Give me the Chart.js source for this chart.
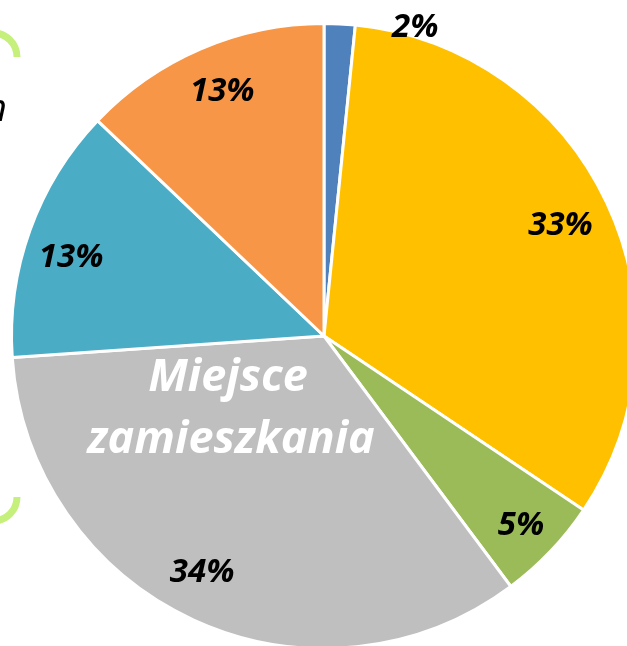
<!DOCTYPE html>
<html>
<head>
<meta charset="utf-8">
<script src="https://cdn.jsdelivr.net/npm/chart.js@4.4.0/dist/chart.umd.min.js"></script>
<style>
    html, body { margin: 0; padding: 0; background: #ffffff; overflow: hidden; }
    #wrap { width: 627px; height: 646px; overflow: hidden; position: relative; }
    canvas { display: block; }
</style>
</head>
<body>
<div id="wrap">
    <canvas id="grafico-pie" width="660" height="650"></canvas>
</div>
<script>
// dane (w %)
var categorias = ['Kat. 1', 'Kat. 2', 'Kat. 3', 'Miejsce zamieszkania', 'Kat. 5', 'Kat. 6'];
var valores = [1.6, 32.8, 5.4, 34.1, 13.2, 12.9];
var rotulos = ['2%', '33%', '5%', '34%', '13%', '13%'];
var cores = ['#4F81BD', '#FFC000', '#9BBB59', '#BFBFBF', '#4BACC6', '#F79646'];

// posicao dos rotulos: fator do raio + deslocamento extra
var fatorRaio = [1.03, 0.84, 0.87, 0.85, 0.85, 0.85];
var desloc = [[75, 13], [-1, 1], [0, 2], [-11, -5], [-3, 12], [3, 0]];

var rotulosPlugin = {
    id: 'rotulos',
    afterDatasetsDraw(chart) {
        var ctx = chart.ctx;
        var meta = chart.getDatasetMeta(0);
        ctx.save();
        ctx.font = 'italic bold 33px "Open Sans"';
        ctx.fillStyle = '#000000';
        ctx.textAlign = 'center';
        ctx.textBaseline = 'middle';
        meta.data.forEach(function (arc, i) {
            var p = arc.getProps(['x', 'y', 'startAngle', 'endAngle', 'outerRadius'], true);
            var meio = (p.startAngle + p.endAngle) / 2;
            var r = p.outerRadius * fatorRaio[i];
            var x = p.x + Math.cos(meio) * r + desloc[i][0];
            var y = p.y + Math.sin(meio) * r + desloc[i][1];
            ctx.fillText(rotulos[i], x, y);
        });

        // titulo da fatia cinza
        var cx = meta.data[0].x, cy = meta.data[0].y;
        ctx.fillStyle = '#ffffff';
        ctx.font = 'italic bold 45px "Open Sans"';
        ctx.textBaseline = 'alphabetic';
        ctx.fillText('Miejsce', cx - 96, cy + 55);
        ctx.fillText('zamieszkania', cx - 93, cy + 117);

        // restos da imagem original na margem esquerda
        ctx.strokeStyle = '#C6F07C';
        ctx.lineWidth = 7;
        ctx.beginPath();
        ctx.arc(-7, 57, 24, -Math.PI / 2, 0);
        ctx.stroke();
        ctx.beginPath();
        ctx.arc(-7, 497, 24, 0, Math.PI / 2);
        ctx.stroke();
        ctx.fillStyle = '#000000';
        ctx.font = 'italic 38px "Open Sans"';
        ctx.textAlign = 'right';
        ctx.fillText('n', 7, 121);
        ctx.restore();
    }
};

var ctxPie = document.querySelector('#grafico-pie');
new Chart(ctxPie, {
    type: 'pie',
    data: {
        labels: categorias,
        datasets: [{
            data: valores,
            backgroundColor: cores,
            borderColor: '#ffffff',
            borderWidth: 3
        }]
    },
    options: {
        responsive: false,
        animation: false,
        layout: {
            padding: { left: 0, right: 12, top: 22, bottom: 0 }
        },
        plugins: {
            legend: { display: false },
            tooltip: { enabled: false },
            title: { display: false }
        }
    },
    plugins: [rotulosPlugin]
});
</script>
</body>
</html>
